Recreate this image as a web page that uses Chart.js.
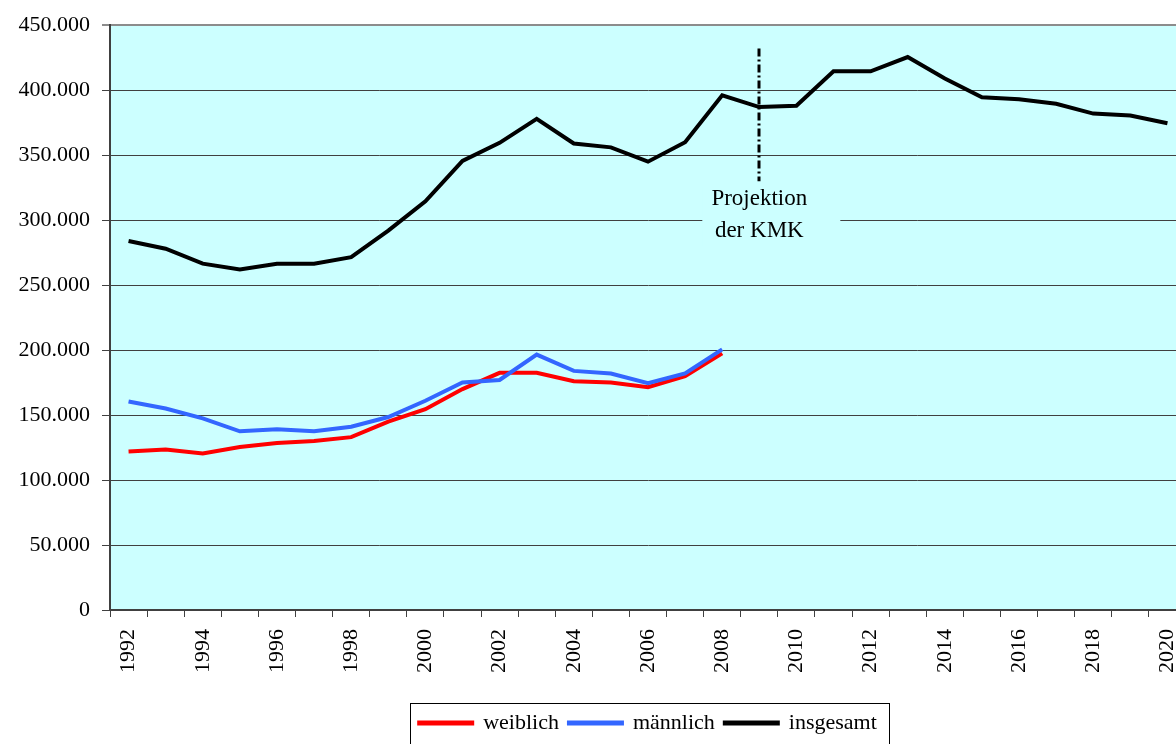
<!DOCTYPE html>
<html lang="de">
<head>
<meta charset="utf-8">
<title>Studienanfänger 1992–2020</title>
<script src="https://cdn.jsdelivr.net/npm/chart.js@4.4.1/dist/chart.umd.min.js"></script>
<style>
  html, body { margin: 0; padding: 0; background: #fff; overflow: hidden; }
  #wrap { width: 1176px; height: 744px; overflow: hidden; }
  #wrap canvas { display: block; }
</style>
</head>
<body>
<div id="wrap"><canvas id="chart" width="1190" height="744"></canvas></div>
<script>
const years = ['1992', '1993', '1994', '1995', '1996', '1997', '1998', '1999', '2000', '2001',
  '2002', '2003', '2004', '2005', '2006', '2007', '2008', '2009', '2010', '2011',
  '2012', '2013', '2014', '2015', '2016', '2017', '2018', '2019', '2020'];

const weiblich = [122000, 123500, 120500, 125500, 128500, 130000, 133000, 145000, 154500, 170000,
  182500, 182500, 176000, 175000, 171500, 180000, 197500];

const maennlich = [160500, 155000, 147500, 137500, 139000, 137500, 141000, 148500, 161000, 175000,
  177000, 196500, 184000, 182000, 174500, 182000, 200500];

const insgesamt = [284000, 278000, 266500, 262000, 266500, 266500, 271500, 292000, 314500, 345500,
  359500, 378000, 359000, 356000, 345000, 360000, 396000, 387000, 388000, 414500,
  414500, 425500, 409000, 394500, 393000, 389500, 382000, 380500, 374500];

const yMax = 450000;
const yStep = 50000;
const projectionYear = '2009';
const projectionText = ['Projektion', 'der KMK'];

const serif = 'Liberation Serif';

// cyan plot background
const plotBackground = {
  id: 'plotBackground',
  beforeDraw(chart) {
    const { ctx, chartArea: a } = chart;
    ctx.save();
    ctx.fillStyle = '#ccffff';
    ctx.fillRect(a.left, a.top, a.right - a.left, a.bottom - a.top);
    ctx.restore();
  }
};

// dash-dot marker and label where the KMK projection starts
const projection = {
  id: 'projection',
  beforeDatasetsDraw(chart) {
    const { ctx, scales: { x, y } } = chart;
    const cx = x.getPixelForValue(years.indexOf(projectionYear));
    const y1 = y.getPixelForValue(316000);
    const y2 = y.getPixelForValue(292000);
    ctx.save();
    ctx.fillStyle = '#ccffff';
    ctx.fillRect(cx - 57, y1 - 13, 138, 60);
    ctx.fillStyle = '#000';
    ctx.font = '23px "' + serif + '"';
    ctx.textAlign = 'center';
    ctx.textBaseline = 'middle';
    ctx.fillText(projectionText[0], cx, y1);
    ctx.fillText(projectionText[1], cx, y2);
    ctx.restore();
  },
  afterDatasetsDraw(chart) {
    const { ctx, scales: { x, y } } = chart;
    const cx = Math.round(x.getPixelForValue(years.indexOf(projectionYear)));
    ctx.save();
    ctx.strokeStyle = '#000';
    ctx.lineWidth = 3;
    ctx.setLineDash([8, 3, 2, 3]);
    ctx.beginPath();
    ctx.moveTo(cx, y.getPixelForValue(432000));
    ctx.lineTo(cx, y.getPixelForValue(330000));
    ctx.stroke();
    ctx.restore();
  }
};

// center the legend under the plot and put a frame around it
const legendFrame = {
  id: 'legendFrame',
  afterLayout(chart) {
    const lg = chart.legend;
    const a = chart.chartArea;
    const d = (a.left + a.right) / 2 - (lg.left + lg.right) / 2;
    lg.left += d;
    lg.right += d;
  },
  afterDraw(chart) {
    const boxes = chart.legend.legendHitBoxes;
    if (!boxes || !boxes.length) return;
    const first = boxes[0];
    const last = boxes[boxes.length - 1];
    const left = Math.round(first.left - 9) + 0.5;
    const right = Math.round(last.left + last.width + 12) + 0.5;
    const top = Math.round(first.top - 9) + 0.5;
    const ctx = chart.ctx;
    ctx.save();
    ctx.strokeStyle = '#000';
    ctx.lineWidth = 1;
    ctx.strokeRect(left, top, right - left, chart.height + 10 - top);
    ctx.restore();
  }
};

const ctx = document.getElementById('chart').getContext('2d');

new Chart(ctx, {
  type: 'line',
  data: {
    labels: years,
    datasets: [
      {
        label: 'weiblich',
        data: weiblich,
        borderColor: '#ff0000',
        backgroundColor: '#ff0000',
        borderWidth: 4,
        pointRadius: 0,
        tension: 0,
        order: 2,
      },
      {
        label: 'männlich',
        data: maennlich,
        borderColor: '#3366ff',
        backgroundColor: '#3366ff',
        borderWidth: 4,
        pointRadius: 0,
        tension: 0,
        order: 1,
      },
      {
        label: 'insgesamt',
        data: insgesamt,
        borderColor: '#000000',
        backgroundColor: '#000000',
        borderWidth: 4,
        pointRadius: 0,
        tension: 0,
        order: 0,
      },
    ],
  },
  options: {
    responsive: false,
    animation: false,
    layout: { padding: { top: 25, right: 4, left: 0, bottom: 0 } },
    plugins: {
      legend: {
        position: 'bottom',
        labels: {
          color: '#000',
          font: { family: serif, size: 22 },
          boxWidth: 53,
          boxHeight: 1,
          padding: 10,
          sort: (a, b) => a.datasetIndex - b.datasetIndex,
        },
      },
      tooltip: { enabled: false },
    },
    scales: {
      x: {
        offset: true,
        afterFit: (scale) => {
          scale.height = 92;
          scale.paddingLeft = 0;
          scale.paddingRight = 0;
        },
        grid: {
          offset: true,
          drawOnChartArea: false,
          tickLength: 7,
          color: '#404040',
        },
        border: { color: '#404040', width: 2 },
        ticks: {
          autoSkip: false,
          minRotation: 90,
          maxRotation: 90,
          padding: 12,
          color: '#000',
          font: { family: serif, size: 22 },
          callback: (value, index) => (index % 2 === 0 ? years[index] : ''),
        },
      },
      y: {
        min: 0,
        max: yMax,
        afterFit: (scale) => { scale.width = 110; },
        grid: {
          tickLength: 8,
          color: (c) => (c.tick && c.tick.value === yMax ? '#8c8c8c' : '#404040'),
          lineWidth: (c) => (c.tick && c.tick.value === yMax ? 2 : 1),
        },
        border: { color: '#404040', width: 2 },
        ticks: {
          stepSize: yStep,
          padding: 12,
          color: '#000',
          font: { family: serif, size: 22 },
          callback: (value) => value.toLocaleString('de-DE'),
        },
      },
    },
  },
  plugins: [plotBackground, projection, legendFrame],
});
</script>
</body>
</html>
